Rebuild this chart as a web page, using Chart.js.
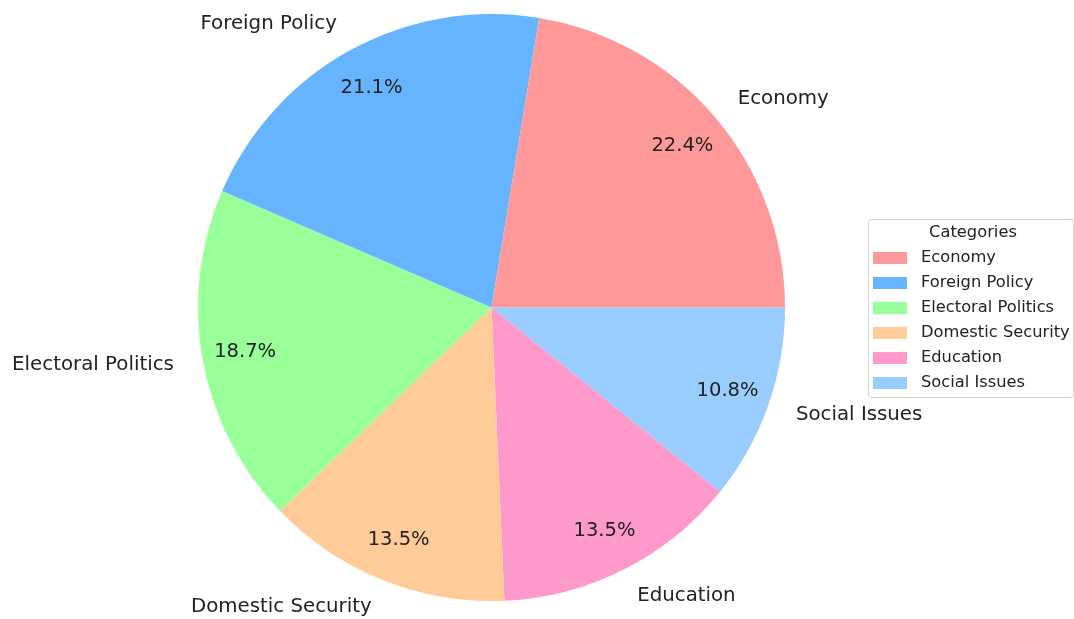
<!DOCTYPE html>
<html>
<head>
<meta charset="utf-8">
<script src="https://cdn.jsdelivr.net/npm/chart.js@4"></script>
<style>
  html, body { margin: 0; padding: 0; background: #fff; }
  #wrap { width: 1074px; height: 619px; position: relative; }
</style>
</head>
<body>
<div id="wrap"><canvas id="pieChart"></canvas></div>
<script>
// ── DATA ──────────────────────────────────────────────
const categories = ['Economy', 'Foreign Policy', 'Electoral Politics',
                    'Domestic Security', 'Education', 'Social Issues'];
const shares     = [22.4, 21.1, 18.7, 13.5, 13.5, 10.8];
const colors     = ['#ff9999', '#66b3ff', '#99ff99', '#ffcc99', '#ff99cc', '#99ccff'];
const legendTitle = 'Categories';

// matplotlib draws counter-clockwise from 3 o'clock, Chart.js goes clockwise,
// so feed the slices in reverse order and start at 3 o'clock.
const revLabels = categories.slice().reverse();
const revShares = shares.slice().reverse();
const revColors = colors.slice().reverse();

const FONT = '"DejaVu Sans", sans-serif';
const TEXT = '#222';

// ── PLUGIN: outer names + inner percentages ───────────
const sliceText = {
  id: 'sliceText',
  afterDatasetsDraw(chart) {
    const ctx = chart.ctx;
    const total = revShares.reduce((s, v) => s + v, 0);
    const arcs = chart.getDatasetMeta(0).data;
    ctx.save();
    ctx.fillStyle = TEXT;
    ctx.textBaseline = 'middle';
    arcs.forEach((arc, i) => {
      const p = arc.getProps(['x', 'y', 'startAngle', 'endAngle', 'outerRadius'], true);
      const mid = (p.startAngle + p.endAngle) / 2;
      const c = Math.cos(mid), s = Math.sin(mid);

      // category name at 1.1 r
      ctx.font = '19.8px ' + FONT;
      ctx.textAlign = c >= 0 ? 'left' : 'right';
      ctx.fillText(revLabels[i], p.x + c * p.outerRadius * 1.1, p.y + s * p.outerRadius * 1.1);

      // percentage at 0.85 r
      ctx.font = '19.5px ' + FONT;
      ctx.textAlign = 'center';
      const pct = (revShares[i] / total * 100).toFixed(1) + '%';
      ctx.fillText(pct, p.x + c * p.outerRadius * 0.853, p.y + s * p.outerRadius * 0.853);
    });
    ctx.restore();
  }
};

// ── PLUGIN: legend box on the right ───────────────────
const boxLegend = {
  id: 'boxLegend',
  afterDraw(chart) {
    const ctx = chart.ctx;
    const left = 868, top = 219, right = 1073, bottom = 397;
    ctx.save();
    ctx.strokeStyle = '#d0d0d0';
    ctx.lineWidth = 1;
    ctx.beginPath();
    ctx.roundRect(left + 0.5, top + 0.5, right - left, bottom - top, 3);
    ctx.stroke();

    ctx.fillStyle = TEXT;
    ctx.textBaseline = 'middle';
    ctx.font = '16.3px ' + FONT;
    ctx.textAlign = 'center';
    ctx.fillText(legendTitle, 973, 233);

    ctx.textAlign = 'left';
    categories.forEach((name, i) => {
      const y = 258 + i * 25;
      ctx.fillStyle = colors[i];
      ctx.fillRect(873, y - 6, 34, 12);
      ctx.fillStyle = TEXT;
      ctx.fillText(name, 921, y);
    });
    ctx.restore();
  }
};

// ── BUILD CHART ───────────────────────────────────────
function init() {
  const ctx = document.getElementById('pieChart').getContext('2d');
  new Chart(ctx, {
    type: 'pie',
    data: {
      labels: revLabels,
      datasets: [{
        data: revShares,
        backgroundColor: revColors,
        borderWidth: 0
      }]
    },
    options: {
      responsive: true,
      maintainAspectRatio: false,
      animation: false,
      rotation: 90,
      layout: { padding: { left: 198, top: 14, right: 289, bottom: 18 } },
      plugins: {
        legend: { display: false },
        tooltip: { enabled: false }
      }
    },
    plugins: [sliceText, boxLegend]
  });
}

window.onload = init;
</script>
</body>
</html>
